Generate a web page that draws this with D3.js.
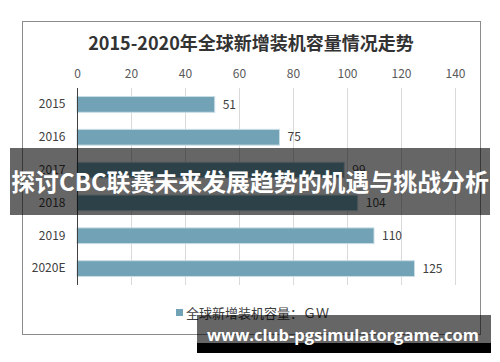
<!DOCTYPE html>
<html><head><meta charset="utf-8">
<script src="https://cdn.jsdelivr.net/npm/d3@7"></script>
<style>html,body{margin:0;padding:0;background:#fff;}svg{display:block;}</style>
</head><body>
<svg id="c" width="500" height="362"></svg>
<script>
const categories = ["2015","2016","2017","2018","2019","2020E"];
const values = [51,75,99,104,110,125];
const xTicks = [0,20,40,60,80,100,120,140];
const title = "2015-2020年全球新增装机容量情况走势";
const legendLabel = "全球新增装机容量：ＧＷ";
const bannerText = "探讨CBC联赛未来发展趋势的机遇与挑战分析";
const watermark = "www.club-pgsimulatorgame.com";

const font = "'Noto Sans CJK SC','Noto Sans',sans-serif";
const svg = d3.select("#c");

svg.append("rect").attr("x",22.5).attr("y",21.5).attr("width",458).attr("height",313)
  .attr("fill","#fff").attr("stroke","#8c8c8c").attr("stroke-width",1);

svg.append("text").attr("x",251).attr("y",50).attr("text-anchor","middle")
  .attr("font-family",font).attr("font-weight","bold").attr("font-size",18)
  .attr("fill","#333").text(title);

const x = d3.scaleLinear().domain([0,140]).range([77,455]);
const y = d3.scaleBand().domain(categories).range([88,285]).paddingInner(0.52).paddingOuter(0.26);

// gridlines
svg.append("g").selectAll("line").data(xTicks.slice(1)).join("line")
  .attr("x1",d=>x(d)+0.5).attr("x2",d=>x(d)+0.5).attr("y1",88).attr("y2",285)
  .attr("stroke","#d9d9d9").attr("stroke-width",1);

// top axis
const ax = svg.append("g").attr("transform","translate(0,88)")
  .call(d3.axisTop(x).tickValues(xTicks).tickSize(0).tickPadding(10));
ax.select(".domain").remove();
ax.selectAll("text").attr("font-family",font).attr("font-size",12).attr("fill","#595959");

// bars
svg.append("g").selectAll("rect").data(values).join("rect")
  .attr("x",x(0)).attr("y",(d,i)=>y(categories[i]))
  .attr("width",d=>x(d)-x(0)).attr("height",y.bandwidth())
  .attr("fill","#72a2b5").attr("stroke","#c9dde5").attr("stroke-width",1);

// left axis
const ay = svg.append("g").attr("transform","translate(77.5,0)")
  .call(d3.axisLeft(y).tickSize(0).tickPadding(12));
ay.select(".domain").attr("stroke","#404040").attr("d","M0,88V285");
ay.selectAll("text").attr("font-family",font).attr("font-size",12).attr("fill","#404040");

// value labels
svg.append("g").selectAll("text").data(values).join("text")
  .attr("x",d=>x(d)+8).attr("y",(d,i)=>y(categories[i])+y.bandwidth()/2)
  .attr("dy","0.35em").attr("font-family",font).attr("font-size",12).attr("fill","#404040")
  .text(d=>d);

// legend
svg.append("rect").attr("x",176).attr("y",309).attr("width",7).attr("height",7).attr("fill","#72a2b5");
svg.append("text").attr("x",186).attr("y",313).attr("dy","0.35em")
  .attr("font-family",font).attr("font-size",13).attr("fill","#404040").text(legendLabel);

// banner overlay
svg.append("rect").attr("x",10).attr("y",148).attr("width",480).attr("height",67).attr("fill","rgba(0,0,0,0.6)");
const bt = svg.append("text").attr("x",250).attr("y",183).attr("dy","0.35em").attr("text-anchor","middle")
  .attr("font-family",font).attr("font-weight","bold").attr("font-size",25).attr("fill","#fff").text(bannerText);
let bw = bt.node().getComputedTextLength();
bt.attr("font-size", 25*478/bw);

// watermark
svg.append("rect").attr("x",197).attr("y",315).attr("width",294).attr("height",28).attr("fill","rgba(0,0,0,0.6)");
svg.append("rect").attr("x",197).attr("y",343).attr("width",294).attr("height",10).attr("fill","#000");
const wt = svg.append("text").attr("x",207).attr("y",341)
  .attr("font-family","'Open Sans','Noto Sans',sans-serif").attr("font-weight","bold").attr("font-size",18)
  .attr("fill","#fff").text(watermark);
let ww = wt.node().getComputedTextLength();
wt.attr("font-size", 18*272/ww);
</script>
</body></html>
